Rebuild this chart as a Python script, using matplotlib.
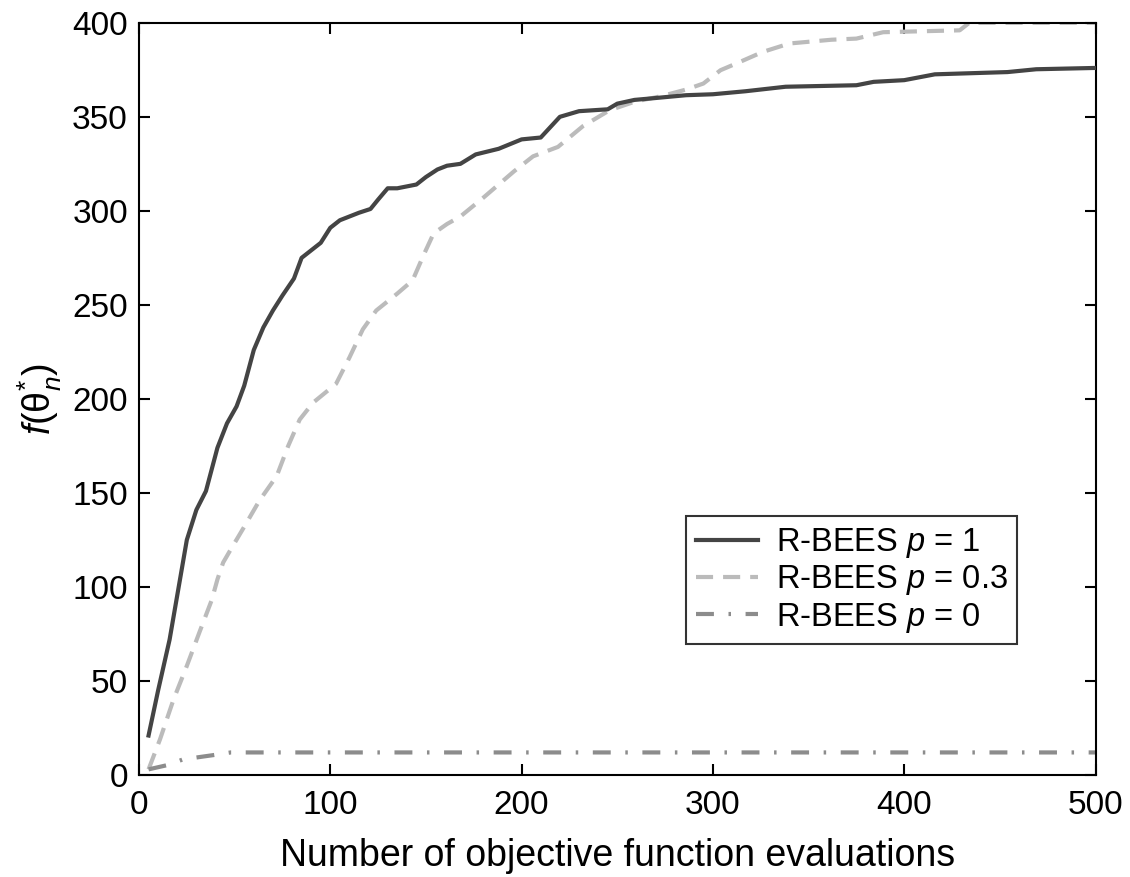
import matplotlib
matplotlib.use("Agg")
import matplotlib.pyplot as plt

plt.rcParams['font.family'] = ['Liberation Sans', 'DejaVu Sans']
plt.rcParams['mathtext.fontset'] = 'custom'
plt.rcParams['mathtext.rm'] = 'Liberation Sans'
plt.rcParams['mathtext.it'] = 'Liberation Sans:italic'
plt.rcParams['mathtext.bf'] = 'Liberation Sans:bold'

# R-BEES p = 1
x_p1 = [5, 10, 16, 25, 30, 35, 41, 46, 51, 55, 60, 65, 70, 75, 81, 85, 90, 95, 100,
        105, 115, 121, 125, 130, 135, 145, 150, 156, 161, 168, 176, 188, 200, 210,
        220, 230, 245, 250, 259, 270, 286, 300, 317, 338, 375, 384, 400, 416, 454,
        469, 500]
y_p1 = [21, 45, 72, 125, 141, 151, 174, 187, 196, 207, 226, 238, 247, 255, 264, 275,
        279, 283, 291, 295, 299, 301, 306, 312, 312, 314, 318, 322, 324, 325, 330,
        333, 338, 339, 350, 353, 354, 357, 359, 360, 361.5, 362, 363.6, 366, 366.8,
        368.6, 369.5, 372.6, 373.8, 375.3, 376]

# R-BEES p = 0.3
x_p03 = [5, 11, 18, 25, 32, 38, 41, 44, 48, 55, 63, 72, 78, 84, 91, 103, 110, 117,
         124, 135, 143, 149, 154, 161, 168, 180, 196, 206, 219, 232, 246, 259, 273,
         286, 295, 304, 313, 326, 340, 362, 375, 389, 429, 434, 500]
y_p03 = [3, 19, 40, 58, 77, 93, 104, 113, 120, 132, 146, 159, 175, 189, 198, 208,
         222, 237, 247, 256, 263, 277, 288, 293, 297, 307, 321, 329, 334, 345, 353.5,
         358, 361, 364.5, 367.7, 374.8, 378.7, 384.5, 389, 391, 391.6, 395, 396, 400,
         400]

# R-BEES p = 0
x_p0 = [5, 15, 23, 39, 48, 500]
y_p0 = [3, 5.3, 8.3, 10.6, 12, 12]

labels = [r'R-BEES $p$ = 1', r'R-BEES $p$ = 0.3', r'R-BEES $p$ = 0']
xticks = [0, 100, 200, 300, 400, 500]
yticks = [0, 50, 100, 150, 200, 250, 300, 350, 400]

fig = plt.figure(figsize=(11.3, 8.77), dpi=100)
ax = fig.add_axes([0.123, 0.1163, 0.8465, 0.8577])

ax.plot(x_p1, y_p1, color='#444444', lw=3.0, solid_joinstyle='round', label=labels[0], zorder=3)
ax.plot(x_p03, y_p03, color='#bbbbbb', lw=3.0, dashes=(4.1, 2.4), label=labels[1], zorder=2)
ax.plot(x_p0, y_p0, color='#8c8c8c', lw=3.0, dashes=(4.3, 3.5, 0.6, 3.5), label=labels[2], zorder=2)

ax.set_xlim(0, 500)
ax.set_ylim(0, 400)
ax.set_xticks(xticks)
ax.set_yticks(yticks)
ax.tick_params(direction='in', length=8, width=1.5, labelsize=24, top=True, right=True)
ax.tick_params(axis='x', pad=11)
ax.tick_params(axis='y', pad=8)
for s in ax.spines.values():
    s.set_linewidth(1.5)

ax.set_xlabel('Number of objective function evaluations', fontsize=27, labelpad=12)
ax.set_ylabel(r'$f(\mathrm{\theta}^{*}_{n})$', fontsize=27, labelpad=6)

leg = ax.legend(loc='upper left', bbox_to_anchor=(0.572, 0.344), fontsize=23.5,
                frameon=True, fancybox=False, edgecolor='black', handlelength=1.9,
                borderpad=0.3, labelspacing=0.1, handletextpad=0.55, borderaxespad=0)
leg.get_frame().set_linewidth(1.5)

fig.savefig('out.png', dpi=100)
